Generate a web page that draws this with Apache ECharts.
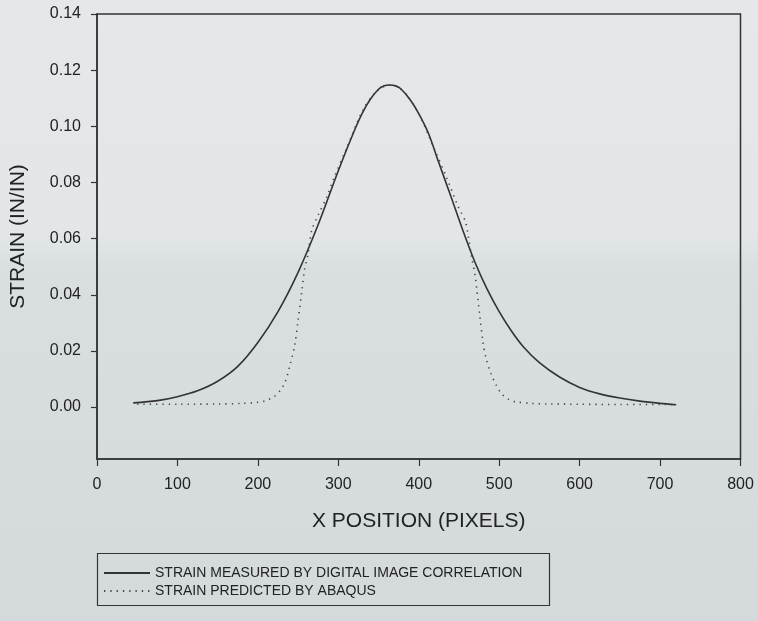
<!DOCTYPE html>
<html>
<head>
<meta charset="utf-8">
<script src="https://cdn.jsdelivr.net/npm/echarts@6/dist/echarts.min.js"></script>
<style>
html,body{margin:0;padding:0;background:#dde2e4;}
#c{width:758px;height:621px;}
</style>
</head>
<body>
<div id="c"></div>
<script>
// Strain measured by digital image correlation
const dicX = [45, 75, 100, 125, 150, 175, 200, 225, 250, 275, 300, 320, 330, 340, 350, 357, 364, 371, 378, 390, 400, 412, 425, 440, 455, 470, 485, 500, 515, 530, 550, 575, 600, 625, 650, 675, 700, 720];
const dicY = [0.0015, 0.0023, 0.0037, 0.0058, 0.0092, 0.0145, 0.0230, 0.0340, 0.0480, 0.0650, 0.0842, 0.0985, 0.1048, 0.1097, 0.1132, 0.1144, 0.1147, 0.1144, 0.1133, 0.1092, 0.1045, 0.0975, 0.0870, 0.0750, 0.0628, 0.0515, 0.0420, 0.0340, 0.0272, 0.0215, 0.0158, 0.0107, 0.0070, 0.0047, 0.0032, 0.0021, 0.0013, 0.0008];

// Strain predicted by ABAQUS
const abqX = [50, 100, 150, 180, 200, 210, 220, 228, 234, 240, 246, 250, 255, 258, 262, 267, 275, 286, 294, 310, 330, 345, 357, 365, 373, 385, 400, 420, 435, 449, 458, 462, 466, 470, 476, 480, 484, 490, 496, 503, 512, 520, 540, 560, 600, 650, 715];
const abqY = [0.0010, 0.0010, 0.0011, 0.0013, 0.0017, 0.0023, 0.0037, 0.0060, 0.0090, 0.0150, 0.0222, 0.0311, 0.0420, 0.0490, 0.0540, 0.0630, 0.0684, 0.0750, 0.0812, 0.0920, 0.1055, 0.1118, 0.1142, 0.1147, 0.1142, 0.1112, 0.1045, 0.0915, 0.0815, 0.0714, 0.0660, 0.0600, 0.0530, 0.0470, 0.0322, 0.0228, 0.0170, 0.0118, 0.0080, 0.0047, 0.0027, 0.0019, 0.0013, 0.0011, 0.0010, 0.0009, 0.0009];

const yTicks = [0, 0.02, 0.04, 0.06, 0.08, 0.10, 0.12, 0.14];
const xTicks = [0, 100, 200, 300, 400, 500, 600, 700, 800];

const names = ['STRAIN MEASURED BY DIGITAL IMAGE CORRELATION', 'STRAIN PREDICTED BY ABAQUS'];

const pair = (xs, ys) => xs.map((x, i) => [x, ys[i]]);

const chart = echarts.init(document.getElementById('c'), null, {renderer: 'canvas'});
const txt = '#222';
const axisCol = '#333';
chart.setOption({
  backgroundColor: {
    type: 'linear', x: 0, y: 0, x2: 0, y2: 1,
    colorStops: [
      {offset: 0, color: '#e4e8ea'},
      {offset: 0.38, color: '#e2e6e8'},
      {offset: 0.43, color: '#d9dfe1'},
      {offset: 1, color: '#d4dadc'}
    ]
  },
  textStyle: {fontFamily: 'Liberation Sans, Arial, sans-serif'},
  animation: false,
  grid: {
    left: 97, top: 14, width: 643.5, height: 445,
    show: true, borderColor: axisCol, borderWidth: 1.5, backgroundColor: 'transparent'
  },
  xAxis: {
    type: 'value', min: 0, max: 800, interval: 100,
    name: 'X POSITION (PIXELS)', nameLocation: 'middle', nameGap: 52,
    nameTextStyle: {fontSize: 21, color: txt},
    axisLine: {show: true, onZero: false, lineStyle: {color: axisCol, width: 1.5}},
    axisTick: {show: true, inside: false, length: 7, customValues: xTicks, lineStyle: {color: axisCol, width: 1.2}},
    axisLabel: {fontSize: 16, color: txt, margin: 18, customValues: xTicks},
    splitLine: {show: false}
  },
  yAxis: {
    type: 'value', min: -0.0185, max: 0.14,
    name: 'STRAIN (IN/IN)', nameLocation: 'middle', nameGap: 68,
    nameTextStyle: {fontSize: 21, color: txt},
    axisLine: {show: true, onZero: false, lineStyle: {color: axisCol, width: 1.5}},
    axisTick: {show: true, inside: false, length: 6, customValues: yTicks, lineStyle: {color: axisCol, width: 1.2}},
    axisLabel: {fontSize: 16, color: txt, margin: 16, customValues: yTicks,
      formatter: v => v.toFixed(2)},
    splitLine: {show: false}
  },
  legend: {
    orient: 'vertical', left: 103, top: 566,
    itemWidth: 46, itemHeight: 12, itemGap: 4,
    padding: 0,
    itemStyle: {opacity: 0},
    textStyle: {fontSize: 14, color: txt},
    data: names
  },
  graphic: [{
    type: 'rect', left: 95, top: 551, z: 10,
    shape: {width: 452, height: 52},
    style: {fill: 'none', stroke: axisCol, lineWidth: 1.2}
  }],
  series: [{
    name: names[0], type: 'line', data: pair(dicX, dicY),
    smooth: 0.3, symbol: 'none',
    lineStyle: {color: '#333', width: 1.6}, itemStyle: {color: '#333'}
  }, {
    name: names[1], type: 'line', data: pair(abqX, abqY),
    smooth: 0.3, symbol: 'none',
    lineStyle: {color: '#444', width: 1.6, type: [1.3, 5]}, itemStyle: {color: '#444'}
  }]
});
</script>
</body>
</html>
